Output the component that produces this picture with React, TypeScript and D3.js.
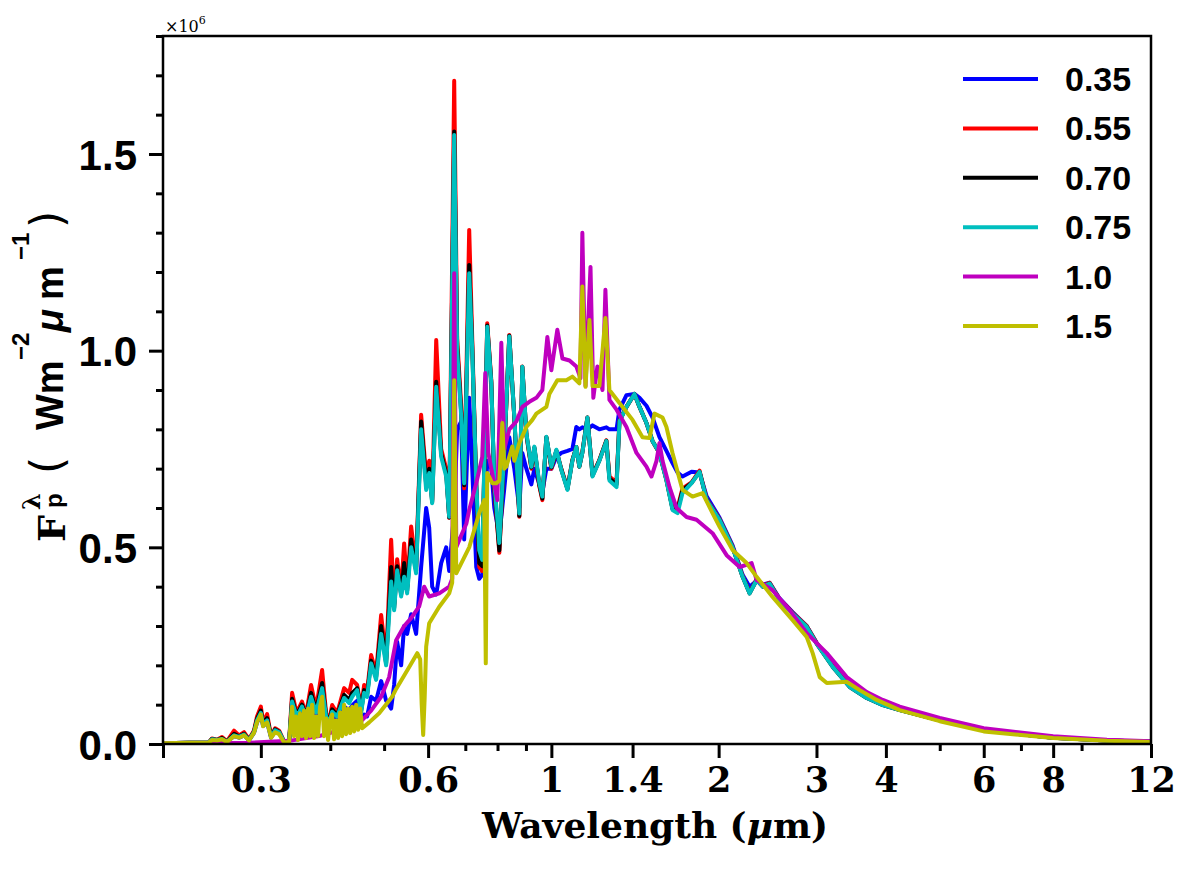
import { useRef, useEffect } from "react";
import * as d3 from "d3";

// wavelength grid (µm) shared by the 0.35, 0.55, 0.70 and 0.75 spectra
const waveA = [
  0.2, 0.2227, 0.2419, 0.245, 0.2501, 0.2554, 0.2607, 0.2685, 0.2741, 0.2798,
  0.2856, 0.2916, 0.2953, 0.3, 0.3028, 0.3079, 0.313, 0.3183, 0.3236, 0.3304,
  0.3373, 0.3415, 0.3471, 0.3514, 0.3558, 0.3618, 0.3694, 0.3772, 0.3867, 0.3932,
  0.3981, 0.4031, 0.4115, 0.4237, 0.4325, 0.438, 0.4472, 0.4546, 0.4603, 0.466,
  0.4738, 0.4837, 0.4939, 0.5042, 0.5148, 0.5212, 0.5278, 0.5366, 0.5433, 0.5501,
  0.5593, 0.5709, 0.5829, 0.5952, 0.6027, 0.6102, 0.6205, 0.6334, 0.6467, 0.6548,
  0.6685, 0.6768, 0.6882, 0.6968, 0.7114, 0.7204, 0.7325, 0.7416, 0.7509, 0.7666,
  0.7796, 0.7894, 0.806, 0.8228, 0.84, 0.8576, 0.8756, 0.8866, 0.9016, 0.9204,
  0.9319, 0.9514, 0.9633, 0.9795, 1.0, 1.021, 1.042, 1.069, 1.091, 1.109,
  1.123, 1.137, 1.161, 1.186, 1.22, 1.256, 1.272, 1.31, 1.326, 1.365,
  1.411, 1.441, 1.483, 1.521, 1.565, 1.611, 1.652, 1.687, 1.722, 1.788,
  1.848, 1.903, 2.008, 2.119, 2.209, 2.274, 2.341, 2.401, 2.471, 2.575,
  2.718, 2.881, 3.0, 3.209, 3.443, 3.695, 3.949, 4.236, 5.0, 6.0,
  8.0, 10.0, 12.0,
];

// F_p (x 1e6 W m^-2 µm^-1)
const flux035 = [
  0.002, 0.003, 0.004, 0.011, 0.009, 0.012, 0.006, 0.020, 0.016, 0.022,
  0.009, 0.028, 0.055, 0.072, 0.046, 0.055, 0.016, 0.032, 0.028, 0.005,
  0.006, 0.095, 0.068, 0.072, 0.085, 0.060, 0.105, 0.070, 0.125, 0.062,
  0.045, 0.070, 0.060, 0.095, 0.085, 0.098, 0.110, 0.060, 0.075, 0.070,
  0.120, 0.110, 0.160, 0.110, 0.090, 0.150, 0.260, 0.200, 0.300, 0.280,
  0.330, 0.280, 0.450, 0.600, 0.550, 0.400, 0.380, 0.460, 0.500, 0.440,
  0.590, 0.800, 0.820, 0.520, 0.880, 0.700, 0.450, 0.420, 0.430, 0.720,
  0.700, 0.600, 0.530, 0.650, 0.780, 0.700, 0.600, 0.740, 0.700, 0.660,
  0.700, 0.660, 0.640, 0.700, 0.700, 0.730, 0.740, 0.745, 0.750, 0.806,
  0.800, 0.805, 0.800, 0.810, 0.800, 0.805, 0.800, 0.800, 0.850, 0.887,
  0.890, 0.880, 0.860, 0.830, 0.780, 0.745, 0.714, 0.690, 0.680, 0.692,
  0.690, 0.630, 0.575, 0.505, 0.430, 0.400, 0.415, 0.405, 0.410, 0.370,
  0.335, 0.300, 0.258, 0.198, 0.147, 0.118, 0.100, 0.087, 0.060, 0.035,
  0.016, 0.009, 0.006,
];

const flux055 = [
  0.002, 0.003, 0.004, 0.014, 0.011, 0.018, 0.007, 0.034, 0.022, 0.030,
  0.012, 0.034, 0.070, 0.095, 0.055, 0.076, 0.020, 0.040, 0.034, 0.006,
  0.007, 0.130, 0.085, 0.092, 0.108, 0.075, 0.150, 0.090, 0.188, 0.078,
  0.058, 0.099, 0.078, 0.142, 0.130, 0.163, 0.150, 0.090, 0.150, 0.135,
  0.226, 0.180, 0.328, 0.215, 0.519, 0.355, 0.470, 0.390, 0.510, 0.400,
  0.553, 0.450, 0.837, 0.680, 0.720, 0.620, 1.027, 0.750, 0.700, 0.575,
  1.686, 1.030, 0.860, 0.650, 1.307, 1.030, 0.655, 0.450, 0.440, 1.070,
  0.925, 0.650, 0.486, 0.745, 1.040, 0.830, 0.578, 0.960, 0.785, 0.700,
  0.752, 0.655, 0.620, 0.780, 0.700, 0.745, 0.700, 0.650, 0.722, 0.755,
  0.705, 0.742, 0.830, 0.685, 0.722, 0.772, 0.680, 0.665, 0.822, 0.857,
  0.890, 0.857, 0.816, 0.770, 0.740, 0.672, 0.600, 0.600, 0.650, 0.665,
  0.695, 0.622, 0.572, 0.502, 0.427, 0.385, 0.419, 0.402, 0.410, 0.368,
  0.334, 0.300, 0.258, 0.198, 0.146, 0.118, 0.100, 0.087, 0.060, 0.035,
  0.016, 0.009, 0.006,
];

const flux070 = [
  0.002, 0.003, 0.004, 0.013, 0.010, 0.015, 0.006, 0.026, 0.019, 0.026,
  0.011, 0.031, 0.064, 0.085, 0.052, 0.066, 0.019, 0.037, 0.031, 0.005,
  0.006, 0.115, 0.078, 0.085, 0.100, 0.070, 0.130, 0.084, 0.155, 0.073,
  0.055, 0.088, 0.073, 0.125, 0.112, 0.130, 0.142, 0.084, 0.137, 0.125,
  0.212, 0.170, 0.300, 0.205, 0.450, 0.345, 0.452, 0.380, 0.460, 0.390,
  0.520, 0.440, 0.820, 0.660, 0.700, 0.615, 0.921, 0.738, 0.688, 0.576,
  1.557, 1.010, 0.842, 0.658, 1.218, 1.010, 0.660, 0.460, 0.452, 1.064,
  0.920, 0.658, 0.492, 0.746, 1.038, 0.831, 0.580, 0.959, 0.788, 0.703,
  0.754, 0.659, 0.624, 0.780, 0.703, 0.746, 0.698, 0.648, 0.721, 0.755,
  0.705, 0.741, 0.830, 0.682, 0.721, 0.771, 0.675, 0.660, 0.821, 0.857,
  0.890, 0.857, 0.816, 0.770, 0.740, 0.671, 0.598, 0.594, 0.645, 0.664,
  0.692, 0.620, 0.570, 0.500, 0.425, 0.383, 0.417, 0.400, 0.408, 0.366,
  0.332, 0.298, 0.256, 0.196, 0.145, 0.117, 0.099, 0.086, 0.060, 0.035,
  0.016, 0.009, 0.006,
];

const flux075 = [
  0.002, 0.003, 0.004, 0.012, 0.010, 0.013, 0.006, 0.022, 0.018, 0.024,
  0.010, 0.030, 0.060, 0.079, 0.050, 0.060, 0.018, 0.035, 0.030, 0.005,
  0.006, 0.108, 0.075, 0.080, 0.095, 0.068, 0.120, 0.080, 0.142, 0.070,
  0.053, 0.082, 0.070, 0.117, 0.104, 0.120, 0.137, 0.080, 0.130, 0.120,
  0.205, 0.163, 0.280, 0.200, 0.413, 0.340, 0.442, 0.375, 0.425, 0.383,
  0.500, 0.434, 0.800, 0.646, 0.689, 0.612, 0.908, 0.730, 0.680, 0.578,
  1.548, 1.000, 0.832, 0.663, 1.197, 1.000, 0.663, 0.493, 0.468, 1.061,
  0.918, 0.663, 0.511, 0.748, 1.036, 0.832, 0.586, 0.959, 0.790, 0.705,
  0.756, 0.663, 0.629, 0.781, 0.705, 0.748, 0.697, 0.646, 0.720, 0.755,
  0.705, 0.740, 0.830, 0.680, 0.720, 0.770, 0.670, 0.653, 0.820, 0.857,
  0.890, 0.857, 0.816, 0.770, 0.740, 0.670, 0.595, 0.587, 0.638, 0.663,
  0.692, 0.620, 0.570, 0.500, 0.425, 0.383, 0.417, 0.400, 0.408, 0.366,
  0.332, 0.298, 0.256, 0.196, 0.145, 0.117, 0.099, 0.086, 0.060, 0.035,
  0.016, 0.009, 0.006,
];

// [wavelength µm, F_p x 1e6]
const series100: [number, number][] = [
  [0.2, 0.001], [0.2856, 0.003], [0.3373, 0.008], [0.3819, 0.02], [0.415, 0.035],
  [0.4565, 0.061], [0.4738, 0.085], [0.4939, 0.12], [0.5105, 0.17], [0.5256, 0.264],
  [0.5433, 0.3], [0.5593, 0.32], [0.5783, 0.35], [0.5903, 0.4], [0.6027, 0.375],
  [0.6284, 0.383], [0.6548, 0.4], [0.663, 0.42], [0.6685, 1.197], [0.6743, 0.5],
  [0.6882, 0.53], [0.7029, 0.56], [0.7114, 0.595], [0.7325, 0.663], [0.7509, 0.73],
  [0.7604, 0.943], [0.77, 0.74], [0.7796, 0.7], [0.7994, 0.62], [0.8127, 1.02],
  [0.8228, 0.75], [0.84, 0.8], [0.8648, 0.82], [0.8866, 0.857], [0.9128, 0.87],
  [0.9397, 0.88], [0.9633, 0.9], [0.9835, 1.035], [1.0, 0.95], [1.025, 1.053],
  [1.047, 0.98], [1.078, 0.975], [1.109, 0.96], [1.128, 0.93], [1.137, 1.3],
  [1.152, 0.91], [1.176, 1.213], [1.19, 0.88], [1.21, 0.96], [1.236, 0.9],
  [1.251, 1.155], [1.272, 0.875], [1.31, 0.85], [1.365, 0.806], [1.423, 0.74],
  [1.483, 0.705], [1.514, 0.68], [1.546, 0.72], [1.565, 0.765], [1.585, 0.72],
  [1.632, 0.653], [1.68, 0.6], [1.751, 0.577], [1.825, 0.57], [1.95, 0.536],
  [2.067, 0.48], [2.182, 0.45], [2.293, 0.46], [2.341, 0.417], [2.501, 0.391],
  [2.685, 0.34], [2.881, 0.282], [3.131, 0.231], [3.401, 0.17], [3.695, 0.132],
  [3.949, 0.112], [4.236, 0.095], [5.0, 0.066], [6.0, 0.04], [8.0, 0.02],
  [10.0, 0.011], [12.0, 0.007],
];

const series150: [number, number][] = [
  [0.2, 0.002], [0.2227, 0.003], [0.2419, 0.004], [0.245, 0.01], [0.2501, 0.009],
  [0.2554, 0.012], [0.2607, 0.005], [0.2685, 0.02], [0.2741, 0.016], [0.2798, 0.022],
  [0.2856, 0.009], [0.2916, 0.028], [0.2953, 0.055], [0.3, 0.075], [0.3028, 0.045],
  [0.3079, 0.055], [0.313, 0.016], [0.3183, 0.03], [0.3236, 0.025], [0.3304, 0.004],
  [0.3373, 0.005], [0.3415, 0.095], [0.3442, 0.02], [0.3471, 0.07], [0.35, 0.01],
  [0.3529, 0.078], [0.3558, 0.02], [0.3589, 0.085], [0.3618, 0.015], [0.3649, 0.09],
  [0.368, 0.02], [0.371, 0.1], [0.3741, 0.015], [0.3772, 0.07], [0.3803, 0.02],
  [0.3835, 0.095], [0.3867, 0.12], [0.3899, 0.02], [0.3932, 0.065], [0.3964, 0.01],
  [0.3997, 0.06], [0.4031, 0.075], [0.4064, 0.012], [0.4098, 0.06], [0.4132, 0.015],
  [0.4167, 0.08], [0.4202, 0.02], [0.4237, 0.1], [0.4272, 0.025], [0.4308, 0.09],
  [0.4344, 0.028], [0.438, 0.095], [0.4416, 0.032], [0.4453, 0.1], [0.449, 0.036],
  [0.4527, 0.09], [0.4565, 0.04], [0.47, 0.055], [0.4899, 0.078], [0.517, 0.12],
  [0.5256, 0.14], [0.5549, 0.196], [0.5736, 0.231], [0.5807, 0.215], [0.5843, 0.1],
  [0.5879, 0.023], [0.5916, 0.12], [0.5952, 0.247], [0.6027, 0.307], [0.6284, 0.349],
  [0.6548, 0.383], [0.663, 0.41], [0.6685, 0.925], [0.6743, 0.434], [0.7114, 0.5],
  [0.7416, 0.587], [0.7572, 0.62], [0.762, 0.205], [0.7666, 0.689], [0.7826, 0.663],
  [0.7961, 0.663], [0.806, 0.67], [0.816, 0.816], [0.8228, 0.7], [0.8296, 0.705],
  [0.8505, 0.756], [0.8576, 0.72], [0.8756, 0.765], [0.9016, 0.806], [0.9242, 0.824],
  [0.9397, 0.84], [0.9795, 0.857], [0.9918, 0.89], [1.025, 0.925], [1.064, 0.925],
  [1.091, 0.934], [1.123, 0.917], [1.137, 1.163], [1.152, 0.908], [1.171, 1.078],
  [1.186, 0.91], [1.22, 0.91], [1.251, 1.083], [1.272, 0.9], [1.326, 0.867],
  [1.4, 0.824], [1.459, 0.78], [1.502, 0.778], [1.533, 0.84], [1.585, 0.83],
  [1.611, 0.806], [1.652, 0.74], [1.722, 0.646], [1.795, 0.629], [1.871, 0.638],
  [1.95, 0.587], [2.008, 0.552], [2.119, 0.493], [2.246, 0.46], [2.341, 0.425],
  [2.501, 0.374], [2.718, 0.315], [2.881, 0.272], [2.953, 0.231], [3.041, 0.17],
  [3.131, 0.155], [3.401, 0.158], [3.589, 0.137], [3.851, 0.112], [4.236, 0.086],
  [5.0, 0.058], [6.0, 0.032], [8.0, 0.015], [10.0, 0.008], [12.0, 0.005],
];

const legendLabels = ["0.35", "0.55", "0.70", "0.75", "1.0", "1.5"];
const colors = ["#0000ff", "#ff0000", "#000000", "#00bfbf", "#bf00bf", "#bfbf00"];

const xMajor = [0.2, 0.3, 0.6, 1, 1.4, 2, 3, 4, 6, 8, 12];
const xMajorLabels = ["", "0.3", "0.6", "1", "1.4", "2", "3", "4", "6", "8", "12"];
const xMinor = [0.4, 0.5, 0.7, 0.8, 0.9, 5, 7, 9];
const yMajor = [0, 0.5, 1.0, 1.5];
const yMinor = [0.1, 0.2, 0.3, 0.4, 0.6, 0.7, 0.8, 0.9, 1.1, 1.2, 1.3, 1.4, 1.6, 1.7, 1.8];

const SERIF = "'DejaVu Serif', serif";
const SANS = "'Liberation Sans', Arial, sans-serif";

export default function App() {
  const svgRef = useRef<SVGSVGElement>(null);

  useEffect(() => {
    if (!svgRef.current) return;
    const svg = d3.select(svgRef.current);
    svg.selectAll("*").remove();

    const left = 163, right = 1151, top = 36, bottom = 744;
    const x = d3.scaleLog().domain([0.2, 12]).range([left, right]);
    const y = d3.scaleLinear().domain([0, 1.8]).range([bottom, top]);

    svg.append("rect").attr("width", 1192).attr("height", 871).attr("fill", "#fff");

    svg.append("clipPath").attr("id", "plot-clip")
      .append("rect").attr("x", left).attr("y", top).attr("width", right - left).attr("height", bottom - top);

    const series: [number, number][][] = [
      d3.zip(waveA, flux035) as [number, number][],
      d3.zip(waveA, flux055) as [number, number][],
      d3.zip(waveA, flux070) as [number, number][],
      d3.zip(waveA, flux075) as [number, number][],
      series100,
      series150,
    ];

    const line = d3.line<[number, number]>().x(d => x(d[0])).y(d => y(d[1]));

    const plot = svg.append("g").attr("clip-path", "url(#plot-clip)");
    series.forEach((data, i) => {
      plot.append("path")
        .datum(data)
        .attr("d", line)
        .attr("fill", "none")
        .attr("stroke", colors[i])
        .attr("stroke-width", 4)
        .attr("stroke-linejoin", "round")
        .attr("stroke-linecap", "round");
    });

    // frame
    svg.append("rect")
      .attr("x", left).attr("y", top).attr("width", right - left).attr("height", bottom - top)
      .attr("fill", "none").attr("stroke", "#000").attr("stroke-width", 2.5);

    // x axis
    const xAxis = svg.append("g").attr("transform", `translate(0,${bottom})`);
    xAxis.call(d3.axisBottom(x).tickValues(xMajor).tickSize(14).tickPadding(9)
      .tickFormat((_, i) => xMajorLabels[i]));
    xAxis.append("g").call(d3.axisBottom(x).tickValues(xMinor).tickSize(7).tickFormat(() => ""));
    xAxis.selectAll(".domain").remove();
    xAxis.selectAll("line").attr("stroke", "#000").attr("stroke-width", 3);
    xAxis.selectAll("text")
      .attr("fill", "#000").attr("font-family", SERIF).attr("font-weight", "bold").attr("font-size", 35);

    // y axis
    const yAxis = svg.append("g").attr("transform", `translate(${left},0)`);
    yAxis.call(d3.axisLeft(y).tickValues(yMajor).tickSize(14).tickPadding(12).tickFormat(d3.format(".1f")));
    yAxis.append("g").call(d3.axisLeft(y).tickValues(yMinor).tickSize(7).tickFormat(() => ""));
    yAxis.selectAll(".domain").remove();
    yAxis.selectAll("line").attr("stroke", "#000").attr("stroke-width", 3);
    yAxis.selectAll("text")
      .attr("fill", "#000").attr("font-family", SANS).attr("font-weight", "bold")
      .attr("font-size", 42).attr("dy", "0.36em");

    // offset text
    const off = svg.append("text").attr("x", left + 2).attr("y", 32)
      .attr("font-family", SERIF).attr("font-size", 16);
    off.append("tspan").text("×10");
    off.append("tspan").attr("font-size", 11).attr("dy", -8).text("6");

    // legend
    const legend = svg.append("g");
    legendLabels.forEach((label, i) => {
      const cy = 79 + i * 49.4;
      legend.append("line").attr("x1", 963).attr("x2", 1038).attr("y1", cy).attr("y2", cy)
        .attr("stroke", colors[i]).attr("stroke-width", 4);
      legend.append("text").attr("x", 1065).attr("y", cy + 12)
        .attr("font-family", SANS).attr("font-weight", "bold").attr("font-size", 34).text(label);
    });

    // x label
    const xl = svg.append("text").attr("x", 655).attr("y", 838).attr("text-anchor", "middle")
      .attr("font-family", SERIF).attr("font-weight", "bold").attr("font-size", 36);
    xl.append("tspan").text("Wavelength (");
    xl.append("tspan").attr("font-style", "italic").text("μ");
    xl.append("tspan").text("m)");

    // y label, built from pieces along the rotated baseline
    const yl = svg.append("g").attr("transform", "translate(65,542) rotate(-90)");
    const pieces = [
      { t: "F", u: 0, v: 0, size: 38, fam: SERIF, w: "bold", s: "normal" },
      { t: "λ", u: 32, v: -25, size: 24, fam: SERIF, w: "bold", s: "normal" },
      { t: "p", u: 34, v: -3, size: 24, fam: SANS, w: "bold", s: "normal" },
      { t: "(", u: 68, v: -3, size: 44, fam: "'DejaVu Sans', sans-serif", w: "normal", s: "normal" },
      { t: "Wm", u: 112, v: -2, size: 38, fam: SANS, w: "bold", s: "normal" },
      { t: "−2", u: 182, v: -36, size: 24, fam: SANS, w: "bold", s: "normal" },
      { t: "μ", u: 210, v: -2, size: 38, fam: SANS, w: "bold", s: "italic" },
      { t: "m", u: 242, v: -2, size: 38, fam: SANS, w: "bold", s: "normal" },
      { t: "−1", u: 282, v: -36, size: 24, fam: SANS, w: "bold", s: "normal" },
      { t: ")", u: 314, v: -3, size: 44, fam: "'DejaVu Sans', sans-serif", w: "normal", s: "normal" },
    ];
    pieces.forEach(p => {
      yl.append("text").attr("x", p.u).attr("y", p.v)
        .attr("font-family", p.fam).attr("font-weight", p.w).attr("font-style", p.s)
        .attr("font-size", p.size).text(p.t);
    });
  }, []);

  return (
    <div style={{ position: "absolute", left: 0, top: 0 }}>
      <svg ref={svgRef} width={1192} height={871} style={{ display: "block" }} />
    </div>
  );
}
